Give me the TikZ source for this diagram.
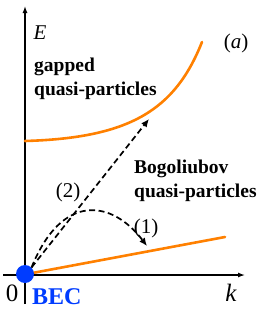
\documentclass[tikz,border=0pt]{standalone}
\usepackage{fontspec}
\setmainfont{Liberation Serif}
\newfontfamily\plotfont{Liberation Serif}
\usepackage{tikz}
\usetikzlibrary{arrows.meta,calc,positioning}
\definecolor{curveorange}{RGB}{255,128,0}
\definecolor{becblue}{RGB}{0,60,255}

\begin{document}
\begin{tikzpicture}[x=1pt,y=-1pt,
    label text/.style={font=\plotfont\fontsize{21}{24}\selectfont, inner sep=0pt},
    bold text/.style={font=\plotfont\fontsize{19.5}{23.5}\selectfont\bfseries, align=left, inner sep=0pt, anchor=north west},
    branch/.style={line width=2.6pt, curveorange, line cap=round},
    jump/.style={line width=1.7pt, dash pattern=on 6pt off 3.5pt, -{Latex[length=8pt,width=7pt]}}]
        \useasboundingbox (0,0) rectangle (279,316);
        % axes
        \coordinate (xl) at (3,275);
        \coordinate (xr) at (245,275);
        \coordinate (yb) at (25,304);
        \coordinate (yt) at (25,6);
        \draw[line width=1.3pt,-{Latex[length=7pt,width=5pt]}] (xl) -- (xr);
        \draw[line width=1.3pt,-{Latex[length=7pt,width=5pt]}] (yb) -- (yt);
        % dispersion branches
        \coordinate (gs) at (25,141);
        \coordinate (ge) at (202,42);
        \coordinate (bs) at (27,274);
        \coordinate (be) at (225,237);
        \draw[branch] (gs) .. controls (130,138) and (175,110) .. (ge);
        \draw[branch] (bs) -- (be);
        % condensate
        \node[circle, fill=becblue, minimum size=18pt, inner sep=0pt] (bec) at (25,274) {};
        % excitations
        \coordinate (t2) at (149,119);
        \coordinate (t1) at (147,246);
        \draw[jump] (bec.north east) -- (t2);
        \draw[jump] (bec.north east) .. controls (62,192) and (112,200) .. (t1);
        % labels
        \node[label text] (E) at (40,33) {\textit{E}};
        \node[label text] (a) at (236,43) {(\textit{a})};
        \node[label text] (n2) at (68,192) {(2)};
        \node[label text] (n1) at (146,228) {(1)};
        \node[font=\plotfont\fontsize{25}{25}\selectfont, inner sep=0pt] (zero) at (12,293) {0};
        \node[font=\plotfont\fontsize{25}{25}\selectfont, inner sep=0pt] (k) at (231,293) {\textit{k}};
        \node[font=\plotfont\fontsize{24}{24}\selectfont\bfseries, text=becblue, inner sep=0pt, anchor=west] (beclabel) at (32,297) {BEC};
        \node[bold text] (gapped) at (34,58) {gapped\\quasi-particles};
        \node[bold text] (bogo) at (134,160) {Bogoliubov\\quasi-particles};
      \end{tikzpicture}
\end{document}
